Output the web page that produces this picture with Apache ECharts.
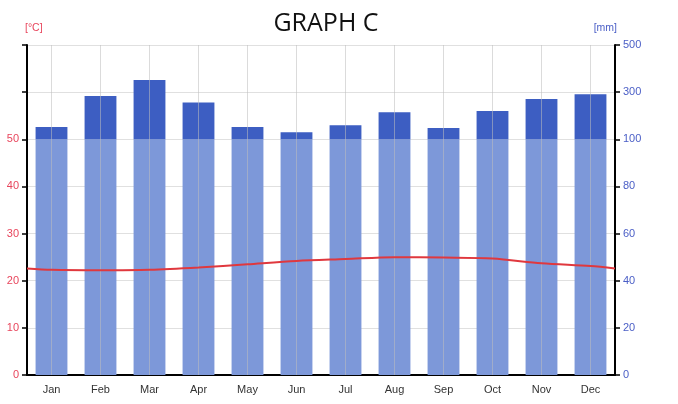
<!DOCTYPE html>
<html>
<head>
<meta charset="utf-8">
<script src="https://cdn.jsdelivr.net/npm/echarts@6/dist/echarts.min.js"></script>
<style>
  html, body { margin: 0; padding: 0; background: #fff; }
  #chart { width: 678px; height: 404px; }
</style>
</head>
<body>
<div id="chart"></div>
<script>
var months = ['Jan', 'Feb', 'Mar', 'Apr', 'May', 'Jun', 'Jul', 'Aug', 'Sep', 'Oct', 'Nov', 'Dec'];
// precipitation in mm
var rain = [152, 284, 351, 256, 152, 130, 160, 215, 148, 220, 271, 291];
// mean temperature in °C, month centres
var temp = [22.3, 22.2, 22.3, 22.8, 23.5, 24.2, 24.6, 25.0, 24.9, 24.7, 23.7, 23.1];
// temperature at the left and right plot edges
var tempEdge = [22.6, 22.6];

// climate diagram scale: 10 °C = 20 mm below 100 mm, 200 mm above
function mmToScale(p) {
  return p <= 100 ? p / 2 : 50 + (p - 100) / 20;
}
function scaleToMm(v) {
  return v <= 50 ? v * 2 : 100 + (v - 50) * 20;
}

var rainLow = rain.map(function (p) { return mmToScale(Math.min(p, 100)); });
var rainHigh = rain.map(function (p) { return p > 100 ? mmToScale(p) - 50 : 0; });

var tempPts = [[0, tempEdge[0]]];
temp.forEach(function (t, i) { tempPts.push([i + 0.5, t]); });
tempPts.push([12, tempEdge[1]]);

var chart = echarts.init(document.getElementById('chart'));
var option = {
  animation: false,
  textStyle: { fontFamily: 'Liberation Sans, Arial, sans-serif' },
  title: {
    text: 'GRAPH C',
    left: 321,
    textAlign: 'center',
    top: 6,
    textStyle: { fontFamily: 'Open Sans', fontSize: 25, fontWeight: 'normal', color: '#111' }
  },
  grid: { left: 27, right: 63, top: 45, bottom: 29 },
  xAxis: [
    {
      type: 'category',
      data: months,
      axisLine: { lineStyle: { color: '#000', width: 2 } },
      axisTick: { alignWithLabel: true, length: 4, lineStyle: { color: '#000', width: 1.5 } },
      axisLabel: { color: '#333', fontSize: 11, margin: 9 },
      splitLine: { show: false }
    },
    {
      type: 'value',
      min: 0,
      max: 12,
      show: false
    }
  ],
  yAxis: [
    {
      type: 'value',
      min: 0,
      max: 70,
      interval: 10,
      name: '[°C]',
      nameLocation: 'end',
      nameGap: 11,
      nameTextStyle: { color: '#e8455c', fontSize: 10.5, align: 'left', padding: [0, 0, 0, -2] },
      axisLine: { show: true, lineStyle: { color: '#000', width: 2 } },
      axisTick: { show: true, length: 5, lineStyle: { color: '#000', width: 1.5 } },
      axisLabel: {
        color: '#e8455c', fontSize: 11, margin: 8,
        formatter: function (v) { return v <= 50 ? String(v) : ''; }
      },
      splitLine: { lineStyle: { color: '#e0e0e0', width: 1 } }
    },
    {
      type: 'value',
      min: 0,
      max: 70,
      interval: 10,
      position: 'right',
      name: '[mm]',
      nameLocation: 'end',
      nameGap: 11,
      nameTextStyle: { color: '#4a5ec6', fontSize: 10.5, align: 'right', padding: [0, -2, 0, 0] },
      axisLine: { show: true, lineStyle: { color: '#000', width: 2 } },
      axisTick: { show: true, length: 5, lineStyle: { color: '#000', width: 1.5 } },
      axisLabel: {
        color: '#4a5ec6', fontSize: 11, margin: 8,
        formatter: function (v) { return String(scaleToMm(v)); }
      },
      splitLine: { show: false }
    }
  ],
  series: [
    {
      name: 'rain',
      type: 'bar',
      stack: 'rain',
      barWidth: '65%',
      data: rainLow,
      itemStyle: { color: '#7d98d9' },
      markLine: {
        silent: true,
        symbol: 'none',
        label: { show: false },
        lineStyle: { color: 'rgba(190,190,190,0.55)', type: 'solid', width: 1 },
        data: months.map(function (m) {
          return [{ coord: [m, 0] }, { coord: [m, 70] }];
        })
      }
    },
    {
      name: 'rain above 100',
      type: 'bar',
      stack: 'rain',
      barWidth: '65%',
      data: rainHigh,
      itemStyle: { color: '#3d5ec2' }
    },
    {
      name: 'temp',
      type: 'line',
      xAxisIndex: 1,
      yAxisIndex: 0,
      data: tempPts,
      smooth: 0.3,
      symbol: 'none',
      z: 5,
      lineStyle: { color: '#e0383e', width: 2 }
    }
  ]
};
chart.setOption(option);
</script>
</body>
</html>
